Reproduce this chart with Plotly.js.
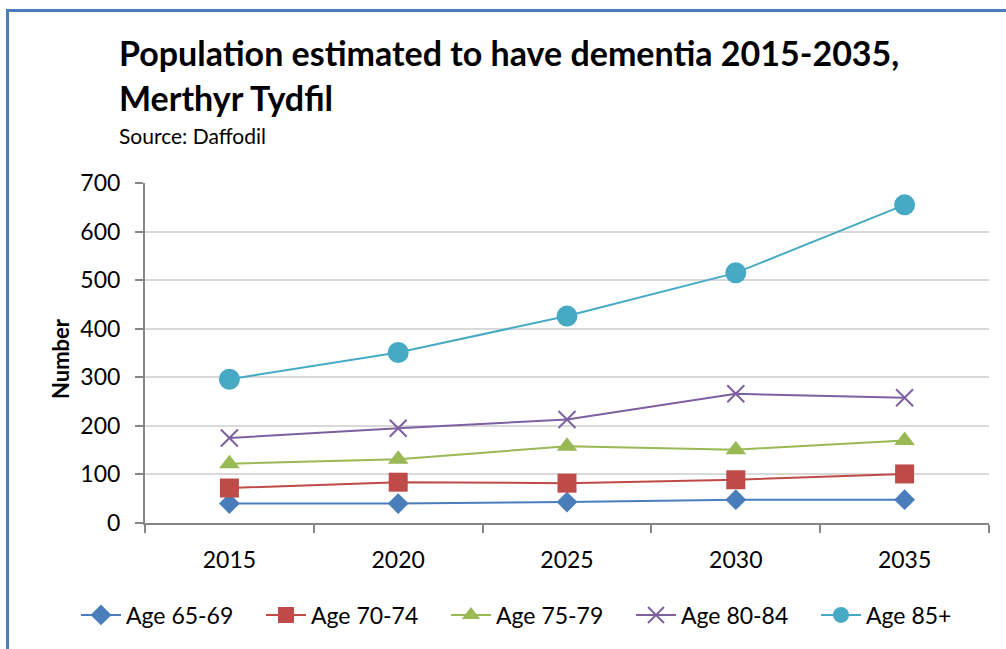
<!DOCTYPE html>
<html>
<head>
    <title>Population estimated to have dementia</title>
    <script src="https://cdn.plot.ly/plotly-3.0.1.min.js"></script>
    <style>
        body { margin: 0; background: #fff; }
        #chart { width: 1006px; height: 649px; }
    </style>
</head>
<body>
    <div id="chart"></div>
    <script>
        // data
        const years = ["2015", "2020", "2025", "2030", "2035"];
        const age6569 = [40, 40, 43, 48, 48];
        const age7074 = [72, 84, 82, 89, 101];
        const age7579 = [122, 131, 158, 151, 170];
        const age8084 = [175, 195, 213, 266, 258];
        const age85 = [296, 351, 426, 515, 655];

        const seriesNames = ["Age 65-69", "Age 70-74", "Age 75-79", "Age 80-84", "Age 85+"];
        const seriesValues = [age6569, age7074, age7579, age8084, age85];
        const colors = ["#4A7EBB", "#BE4B48", "#98B954", "#7D60A0", "#46AAC5"];
        const symbols = ["diamond", "square", "triangle-up", "x-thin-open", "circle"];
        const sizes = [16, 19, 18, 17, 21];

        const traces = seriesValues.map((vals, i) => ({
            x: years,
            y: vals,
            type: "scatter",
            mode: "lines+markers",
            name: seriesNames[i],
            line: { color: colors[i], width: 2 },
            marker: {
                symbol: symbols[i],
                size: sizes[i],
                color: colors[i],
                line: { color: colors[i], width: symbols[i] === "x-thin-open" ? 2 : 0 }
            }
        }));

        const font = "Lato, 'Open Sans', sans-serif";
        const axisGrey = "#868686";
        const titleX = (117 - 145) / 844;

        const layout = {
            width: 1006,
            height: 649,
            margin: { l: 145, r: 17, t: 183, b: 126 },
            paper_bgcolor: "#fff",
            plot_bgcolor: "#fff",
            font: { family: font, color: "#000", size: 22 },
            xaxis: {
                type: "category",
                range: [-0.5, 4.5],
                showgrid: false,
                showline: true,
                linecolor: axisGrey,
                linewidth: 2,
                ticks: "outside",
                tickson: "boundaries",
                ticklen: 8,
                tickwidth: 2,
                tickcolor: axisGrey,
                ticklabelstandoff: 15,
                tickfont: { size: 23 }
            },
            yaxis: {
                range: [0, 700],
                dtick: 100,
                showgrid: true,
                gridcolor: "#D9D9D9",
                gridwidth: 2,
                zeroline: false,
                showline: true,
                linecolor: axisGrey,
                linewidth: 2,
                ticks: "outside",
                ticklen: 8,
                tickwidth: 2,
                tickcolor: axisGrey,
                ticklabelstandoff: 10,
                tickfont: { size: 23 }
            },
            legend: {
                orientation: "h",
                x: (76 - 145) / 844,
                xanchor: "left",
                y: (523 - 615) / 340,
                yanchor: "middle",
                entrywidth: 130,
                font: { size: 23 },
                itemwidth: 40
            },
            annotations: [
                {
                    text: "<b>Population estimated to have dementia 2015-2035,</b>",
                    xref: "paper", yref: "paper",
                    x: titleX, xanchor: "left",
                    y: (523 - 52) / 340, yanchor: "middle",
                    showarrow: false,
                    font: { size: 34 }
                },
                {
                    text: "<b>Merthyr Tydfil</b>",
                    xref: "paper", yref: "paper",
                    x: titleX, xanchor: "left",
                    y: (523 - 97) / 340, yanchor: "middle",
                    showarrow: false,
                    font: { size: 34 }
                },
                {
                    text: "Source: Daffodil",
                    xref: "paper", yref: "paper",
                    x: titleX, xanchor: "left",
                    y: (523 - 135) / 340, yanchor: "middle",
                    showarrow: false,
                    font: { size: 21 }
                },
                {
                    text: "<b>Number</b>",
                    xref: "paper", yref: "paper",
                    x: (60 - 145) / 844, xanchor: "center",
                    y: (523 - 359) / 340, yanchor: "middle",
                    textangle: -90,
                    showarrow: false,
                    font: { size: 22 }
                }
            ],
            shapes: [
                {
                    // outer chart border, right and bottom edges fall off the picture
                    type: "rect",
                    xref: "paper", yref: "paper",
                    x0: (7.5 - 145) / 844, x1: (1100 - 145) / 844,
                    y0: (523 - 760) / 340, y1: (523 - 10.5) / 340,
                    line: { color: "#4A7EBB", width: 3 },
                    layer: "below"
                }
            ],
            showlegend: true
        };

        Plotly.newPlot("chart", traces, layout, { displayModeBar: false });
    </script>
</body>
</html>
